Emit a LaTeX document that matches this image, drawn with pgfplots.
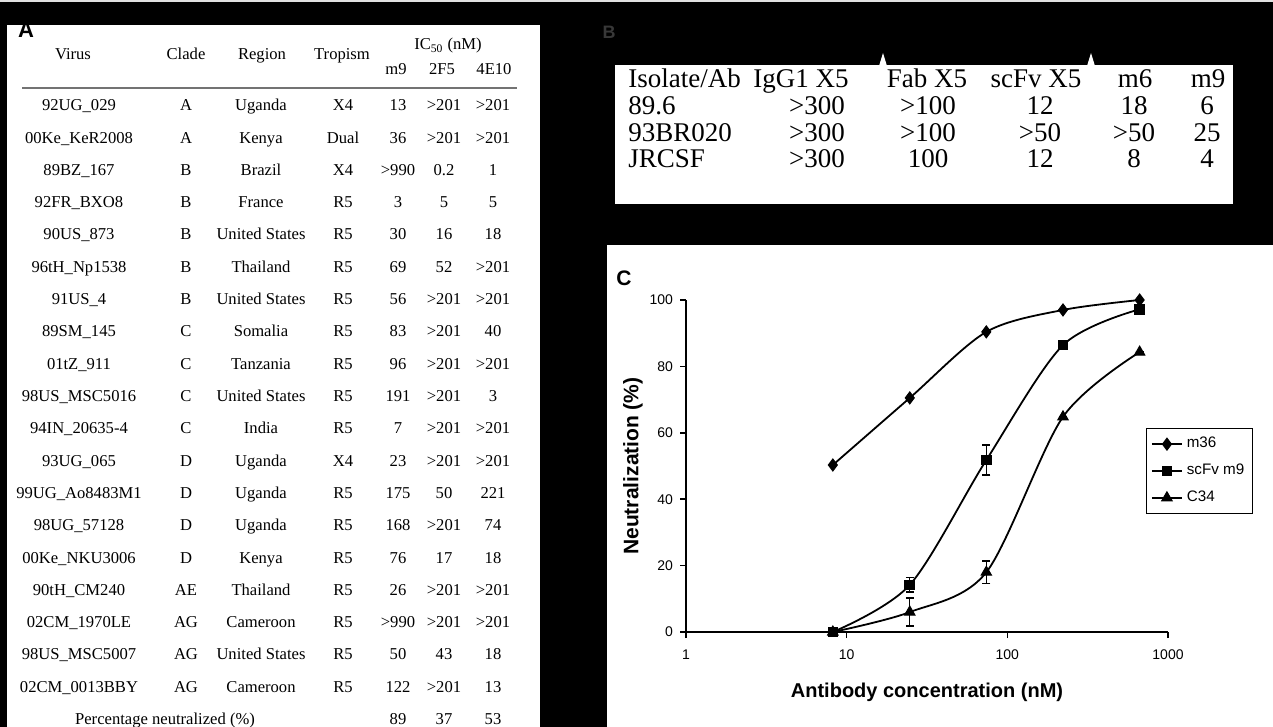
\documentclass[border=0pt]{standalone}
\usepackage{fontspec}
\setmainfont{Liberation Serif}
\setsansfont{Liberation Sans}
\usepackage{pgfplots}
\pgfplotsset{compat=1.18}

\pgfplotstableread{
x     y     e
8.2   50.3  0
24.7  70.5  0
74    90.4  0
222   97.0  0
666   100.0 0
}\mthirtysix
\pgfplotstableread{
x     y     e
8.2   0.0   0
24.7  14.2  2.2
74    51.8  4.5
222   86.4  0
666   97.2  0
}\scfv
\pgfplotstableread{
x     y     e
8.2   0.0   0
24.7  6.0   4.2
74    18.0  3.4
222   64.8  0
666   84.3  0
}\cthirtyfour

% row of table A: y, virus, clade, region, tropism, m9, 2F5, 4E10
\newcommand\arow[8]{%
  \node at (79,#1) {#2};
  \node at (186,#1) {#3};
  \node at (261,#1) {#4};
  \node at (343,#1) {#5};
  \node at (398,#1) {#6};
  \node at (444,#1) {#7};
  \node at (493,#1) {#8};}
% row of table B
\newcommand\brow[7]{%
  \node[anchor=west] at (628,#1) {#2};
  \node at (817,#1) {#3};
  \node at (928,#1) {#4};
  \node at (1040,#1) {#5};
  \node at (1134,#1) {#6};
  \node at (1207,#1) {#7};}

\begin{document}
\begin{tikzpicture}
\begin{scope}[x=0.5pt,y=-0.5pt]
  % background and panels
  \fill[black] (0,0) rectangle (1273,727);
  \fill[black!12] (0,0) rectangle (1273,2);
  \fill[white] (7,25) rectangle (540,727);
  \fill[white] (615,65) rectangle (1233,204);
  \fill[white] (879,66) -- (883,53) -- (887,66) -- cycle;
  \fill[white] (1087,66) -- (1091,53) -- (1095,66) -- cycle;
  \fill[white] (607,245) rectangle (1273,727);
  % panel labels
  \node[font=\sffamily\bfseries\fontsize{11}{12}\selectfont, inner sep=0pt] at (26,30) {A};
  \node[font=\sffamily\bfseries\fontsize{9}{10}\selectfont, text=black!78, inner sep=0pt] at (609,32) {B};
  \node[font=\sffamily\bfseries\fontsize{10.5}{12}\selectfont, inner sep=0pt] at (624,278) {C};
  % table A
  \begin{scope}[every node/.style={font=\fontsize{8.3}{9}\selectfont, inner sep=0pt, text height=0.68em, text depth=0.2em}]
    \node at (73,55) {Virus};
    \node at (186,55) {Clade};
    \node at (262,55) {Region};
    \node at (342,55) {Tropism};
    \node at (448,45) {IC\textsubscript{50} (nM)};
    \node at (396,70) {m9};
    \node at (442,70) {2F5};
    \node at (494,70) {4E10};
    \draw[black!55, line width=1pt] (22,88) -- (517,88);
    \arow{106}{92UG\_029}{A}{Uganda}{X4}{13}{>201}{>201}
    \arow{138.3}{00Ke\_KeR2008}{A}{Kenya}{Dual}{36}{>201}{>201}
    \arow{170.6}{89BZ\_167}{B}{Brazil}{X4}{>990}{0.2}{1}
    \arow{202.9}{92FR\_BXO8}{B}{France}{R5}{3}{5}{5}
    \arow{235.2}{90US\_873}{B}{United States}{R5}{30}{16}{18}
    \arow{267.5}{96tH\_Np1538}{B}{Thailand}{R5}{69}{52}{>201}
    \arow{299.8}{91US\_4}{B}{United States}{R5}{56}{>201}{>201}
    \arow{332.1}{89SM\_145}{C}{Somalia}{R5}{83}{>201}{40}
    \arow{364.4}{01tZ\_911}{C}{Tanzania}{R5}{96}{>201}{>201}
    \arow{396.7}{98US\_MSC5016}{C}{United States}{R5}{191}{>201}{3}
    \arow{429}{94IN\_20635-4}{C}{India}{R5}{7}{>201}{>201}
    \arow{461.3}{93UG\_065}{D}{Uganda}{X4}{23}{>201}{>201}
    \arow{493.6}{99UG\_Ao8483M1}{D}{Uganda}{R5}{175}{50}{221}
    \arow{525.9}{98UG\_57128}{D}{Uganda}{R5}{168}{>201}{74}
    \arow{558.2}{00Ke\_NKU3006}{D}{Kenya}{R5}{76}{17}{18}
    \arow{590.5}{90tH\_CM240}{AE}{Thailand}{R5}{26}{>201}{>201}
    \arow{622.8}{02CM\_1970LE}{AG}{Cameroon}{R5}{>990}{>201}{>201}
    \arow{655.1}{98US\_MSC5007}{AG}{United States}{R5}{50}{43}{18}
    \arow{687.4}{02CM\_0013BBY}{AG}{Cameroon}{R5}{122}{>201}{13}
    \node at (165,719.7) {Percentage neutralized (\%)};
    \node at (398,719.7) {89};
    \node at (444,719.7) {37};
    \node at (493,719.7) {53};
  \end{scope}
  % table B
  \begin{scope}[every node/.style={font=\fontsize{13.5}{14}\selectfont, inner sep=0pt, text height=0.68em, text depth=0.2em}]
    \node[anchor=west] at (628,83) {Isolate/Ab};
    \node at (801,83) {IgG1 X5};
    \node at (927,83) {Fab X5};
    \node at (1036,83) {scFv X5};
    \node at (1135,83) {m6};
    \node at (1208,83) {m9};
    \brow{110}{89.6}{>300}{>100}{12}{18}{6}
    \brow{137}{93BR020}{>300}{>100}{>50}{>50}{25}
    \brow{163}{JRCSF}{>300}{100}{12}{8}{4}
  \end{scope}
\end{scope}

\begin{axis}[
  at={(343pt,-316pt)}, anchor=south west,
  width=241pt, height=166pt, scale only axis,
  xmode=log, xmin=1, xmax=1000, ymin=0, ymax=100,
  axis lines=left, axis line style={-, line width=1pt},
  xtick={1,10,100,1000}, xticklabels={1,10,100,1000},
  xminorticks=false,
  ytick={0,20,40,60,80,100},
  tick align=outside, major tick length=3pt,
  tick style={line width=0.8pt, black},
  /pgf/number format/assume math mode=true,
  ticklabel style={font=\sffamily\fontsize{7}{8}\selectfont},
  xticklabel style={yshift=-2.5pt},
  xlabel={Antibody concentration (nM)},
  ylabel={Neutralization (\%)},
  xlabel style={font=\sffamily\bfseries\fontsize{10}{12}\selectfont, at={(axis description cs:0.5,-0.181)}, anchor=center},
  ylabel style={font=\sffamily\bfseries\fontsize{10.5}{12}\selectfont, at={(axis description cs:-0.110,0.5)}, anchor=center},
  clip=false,
  cycle list={{black},{black},{black}},
  legend style={at={(axis description cs:0.954,0.614)}, anchor=north west,
    draw=black, line width=0.6pt, font=\sffamily\fontsize{7.6}{9}\selectfont,
    inner sep=2.3pt, row sep=2.6pt, legend cell align=left},
  legend image code/.code={\draw[mark repeat=2, mark phase=2, #1] plot coordinates {(0pt,0pt) (7.5pt,0pt) (15pt,0pt)};},
]
\addplot[black, line width=0.9pt, smooth, tension=0.5, mark=diamond*, mark size=3pt, mark options={solid, fill=black, line width=0.5pt},
  error bars/.cd, y dir=both, y explicit, error bar style={black, line width=0.7pt}, error mark options={black, rotate=90, mark size=2pt, line width=0.7pt}]
  table[x=x, y=y, y error=e] {\mthirtysix};
\addlegendentry{m36}
\addplot[black, line width=0.9pt, smooth, tension=0.5, mark=square*, mark size=2.4pt, mark options={solid, fill=black, line width=0.5pt},
  error bars/.cd, y dir=both, y explicit, error bar style={black, line width=0.7pt}, error mark options={black, rotate=90, mark size=2pt, line width=0.7pt}]
  table[x=x, y=y, y error=e] {\scfv};
\addlegendentry{scFv m9}
\addplot[black, line width=0.9pt, smooth, tension=0.5, mark=triangle*, mark size=3pt, mark options={solid, fill=black, line width=0.5pt},
  error bars/.cd, y dir=both, y explicit, error bar style={black, line width=0.7pt}, error mark options={black, rotate=90, mark size=2pt, line width=0.7pt}]
  table[x=x, y=y, y error=e] {\cthirtyfour};
\addlegendentry{C34}
\end{axis}
\pgfresetboundingbox
\useasboundingbox (0,0) rectangle (636.5pt,-363.5pt);
\end{tikzpicture}
\end{document}
